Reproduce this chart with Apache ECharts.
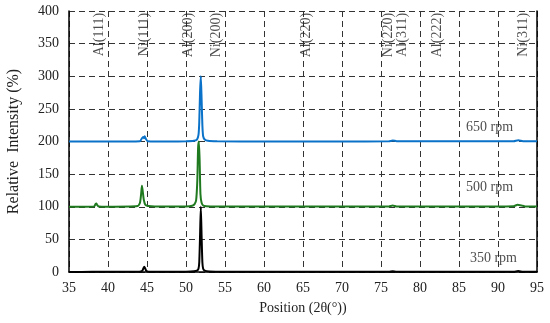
<!DOCTYPE html>
<html><head><meta charset="utf-8">
<script src="https://cdn.jsdelivr.net/npm/echarts@6/dist/echarts.min.js"></script>
<style>html,body{margin:0;padding:0;background:#fff}#c{width:550px;height:323px}</style>
</head><body><div id="c"></div>
<script>
var xTicks = [35,40,45,50,55,60,65,70,75,80,85,90,95];
var yTicks = [0,50,100,150,200,250,300,350,400];

var rpm350 = [[35,0],[38,0.3],[40,0.2],[44,0.5],[44.4,2],[44.55,6],[44.65,8],[44.75,6],[44.9,2],[45.2,0.5],[48,0.3],[50,0.5],[51,1],[51.4,2],[51.6,5],[51.7,15],[51.8,55],[51.9,100],[52.0,55],[52.1,15],[52.2,5],[52.4,2],[53,0.8],[55,0.3],[60,0.2],[65,0.2],[70,0.2],[76,0.3],[76.5,1],[77,0.3],[85,0.2],[92,0.3],[92.6,1.5],[93.2,0.3],[95,0.2]];

var rpm500 = [[35,100],[38.2,100.3],[38.4,104],[38.5,105],[38.6,103],[38.8,100.3],[40,100],[43.8,101],[44.1,106],[44.25,120],[44.35,132],[44.45,124],[44.6,110],[44.8,103],[45.2,101],[46,100.3],[50,100.5],[50.8,101.5],[51.1,104],[51.3,110],[51.45,140],[51.55,190],[51.65,200],[51.75,170],[51.85,120],[52.0,106],[52.2,102],[52.6,100.8],[54,100.3],[60,100.2],[70,100.2],[76,100.5],[76.5,102],[77,100.5],[85,100.3],[92,100.8],[92.5,103],[93,102],[93.5,100.5],[95,100.3]];

var rpm650 = [[35,200],[40,200],[44.1,200.5],[44.35,205],[44.5,207],[44.6,205],[44.7,208],[44.85,204],[45.1,200.5],[48,200],[50,200.3],[51,201],[51.4,203],[51.6,210],[51.7,230],[51.8,275],[51.9,300],[52.0,265],[52.1,225],[52.2,208],[52.4,203],[52.8,201],[54,200.3],[60,200],[70,200],[76,200.3],[76.5,201.5],[77,200.5],[85,200.2],[92,200.5],[92.6,202],[93.2,200.5],[95,200.3]];

var peakNames = ['Al(111)','Ni(111)','Al(200)','Ni(200)','Al(220)','Ni(220)','Al(311)','Al(222)','Ni(311)'];
var peakPos = [38.85,44.6,50.3,53.9,65.4,76.0,77.7,82.2,93.2];

var rpmNames = ['650 rpm','500 rpm','350 rpm'];
var rpmLabelPos = [[85.9,222],[85.9,129],[86.4,21]];

var serif = 'Liberation Serif';
var chart = echarts.init(document.getElementById('c'));
var peakData = peakNames.map(function(n,i){return {name:n, value:[peakPos[i],397]};});
var rpmData = rpmNames.map(function(n,i){return {name:n, value:rpmLabelPos[i]};});

chart.setOption({
  animation:false,
  backgroundColor:'#fff',
  grid:{left:69,right:13,top:11,bottom:51,containLabel:false,outerBoundsMode:'none'},
  xAxis:{type:'value',min:35,max:95,interval:5,
    name:'Position (2\u03b8(\u00b0))',nameLocation:'middle',nameGap:29,
    nameTextStyle:{fontFamily:serif,fontSize:14,color:'#222'},
    axisLine:{lineStyle:{color:'#000',width:1.5}},
    axisTick:{show:false},
    axisLabel:{fontFamily:serif,fontSize:14,color:'#222',margin:9},
    splitLine:{show:true,lineStyle:{color:'#333',type:[6,4],width:1}}},
  yAxis:[{type:'value',min:0,max:400,interval:50,
    name:'Relative  Intensity (%)',nameLocation:'middle',nameGap:47,
    nameTextStyle:{fontFamily:serif,fontSize:16,color:'#222'},
    axisLine:{show:true,lineStyle:{color:'#000',width:1.5}},
    axisTick:{show:false},
    axisLabel:{fontFamily:serif,fontSize:14,color:'#222',margin:10},
    splitLine:{show:true,lineStyle:{color:'#333',type:[6,4],width:1}}},
    {type:'value',min:0,max:400,position:'right',
    axisLine:{show:true,lineStyle:{color:'#000',width:1.5}},
    axisTick:{show:false},axisLabel:{show:false},splitLine:{show:false}}],
  series:[
    {type:'line',data:rpm350,showSymbol:false,smooth:0.2,lineStyle:{color:'#000',width:2}},
    {type:'line',data:rpm500,showSymbol:false,smooth:0.2,lineStyle:{color:'#1f7a1f',width:2}},
    {type:'line',data:rpm650,showSymbol:false,smooth:0.2,lineStyle:{color:'#0a72c8',width:2}},
    {type:'scatter',data:peakData,symbolSize:0,silent:true,
      label:{show:true,formatter:'{b}',position:'inside',rotate:90,align:'right',verticalAlign:'middle',
        fontFamily:serif,fontSize:14,color:'#222'}},
    {type:'scatter',data:rpmData,symbolSize:0,silent:true,
      label:{show:true,formatter:'{b}',position:'inside',align:'left',verticalAlign:'middle',
        fontFamily:serif,fontSize:14,color:'#222'}}
  ]
});
</script></body></html>
